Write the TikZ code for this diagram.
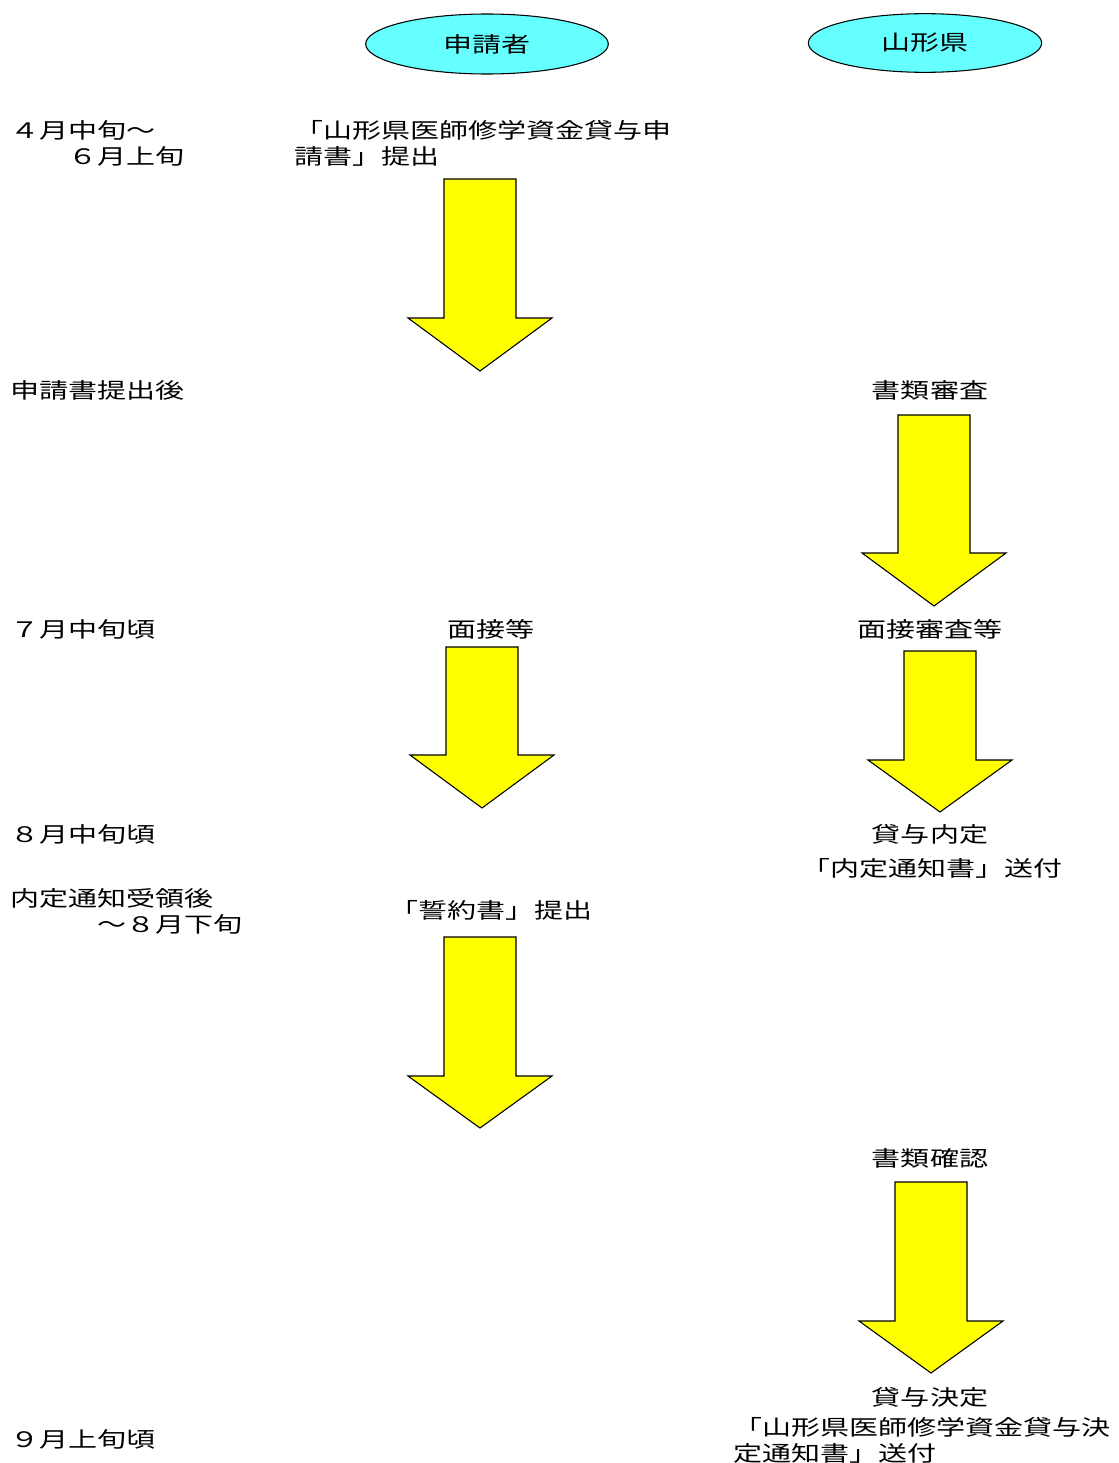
\documentclass[tikz,border=0pt]{standalone}
\usepackage{fontspec}
\setmainfont{Noto Sans CJK JP}[FakeStretch=1.36]
\usetikzlibrary{shapes.geometric}
\definecolor{partycyan}{RGB}{102,255,255}
\definecolor{arrowyellow}{RGB}{255,255,0}

\begin{document}
\begin{tikzpicture}[x=0.75pt,y=-0.75pt,
	lab/.style={inner sep=0pt,font=\fontsize{16}{19.5}\selectfont},
	party/.style={ellipse,draw=black,line width=0.8pt,fill=partycyan,inner sep=0pt,font=\fontsize{16}{19.5}\selectfont},
	yarrow/.style={draw=black,line width=0.8pt,fill=arrowyellow,line join=miter}]
		\useasboundingbox (0,0) rectangle (1119,1463);

		% Parties
		\node[party,minimum width=182pt,minimum height=45pt] (applicant) at (487,44) {申請者};
		\node[party,minimum width=175pt,minimum height=44pt] (pref) at (925,43) {山形県};

		% Schedule (left column)
		\node[lab,anchor=west,align=left] (aprjun) at (10,143) {４月中旬～\\　　６月上旬};
		\node[lab,anchor=west] (afterapp) at (10,390) {申請書提出後};
		\node[lab,anchor=west] (jul) at (10,629) {７月中旬頃};
		\node[lab,anchor=west] (aug) at (10,834) {８月中旬頃};
		\node[lab,anchor=west,align=left] (augend) at (10,911) {内定通知受領後\\　　　～８月下旬};
		\node[lab,anchor=west] (sep) at (10,1439) {９月上旬頃};

		% Applicant steps
		\node[lab,anchor=west,align=left] (submit) at (294,143) {「山形県医師修学資金貸与申\\請書」提出};
		\node[lab] (interview) at (491,629) {面接等};
		\node[lab] (pledge) at (491,910) {「誓約書」提出};

		% Prefecture steps
		\node[lab] (review) at (930,390) {書類審査};
		\node[lab] (exam) at (930,629) {面接審査等};
		\node[lab] (provis) at (930,834) {貸与内定};
		\node[lab] (notice) at (932,868) {「内定通知書」送付};
		\node[lab] (check) at (930,1158) {書類確認};
		\node[lab] (decide) at (930,1397) {貸与決定};
		\node[lab,anchor=west,align=left] (decnotice) at (733,1440) {「山形県医師修学資金貸与決\\定通知書」送付};

		% Block arrows: centre x / top / shaft end / tip
		\foreach \x/\t/\b/\p in {480/179/318/371, 934/415/553/606, 482/647/755/808,
			940/651/760/812, 480/937/1076/1128, 931/1182/1321/1373}
			\draw[yarrow] (\x-36,\t) -- (\x+36,\t) -- (\x+36,\b) -- (\x+72,\b)
				-- (\x,\p) -- (\x-72,\b) -- (\x-36,\b) -- cycle;
	\end{tikzpicture}
\end{document}
